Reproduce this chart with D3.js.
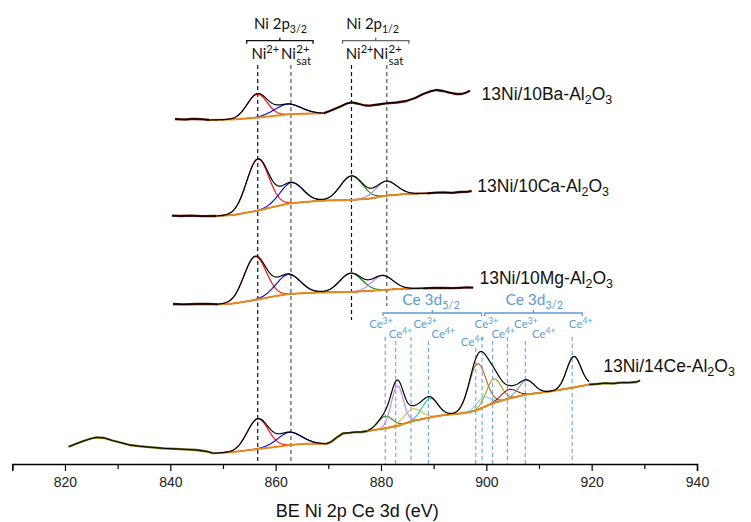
<!DOCTYPE html>
<html>
<head>
<meta charset="utf-8">
<script src="https://cdn.jsdelivr.net/npm/d3@7"></script>
<style>
  body { margin: 0; background: #fff; }
</style>
</head>
<body>
<div id="chart"></div>
<script>
// values: [binding energy eV, intensity (a.u., offset per sample)]
// peaks: [centre eV, height above background, sigma eV]

// 13Ni/10Ba-Al2O3
var baRawPre = [[840.9, 345], [842, 344.6], [843, 344.5], [844, 345.2], [845, 345], [846.3, 344.6], [847.5, 344]];
var baBg = [[847.5, 344], [852, 344.6], [856.5, 346.3], [859.5, 348], [862.5, 349.7], [866, 350.4], [869.1, 350.7]];
var baPeaks = [[856.5, 23.4, 1.9], [862.3, 10.3, 2.5]];
var baRawPost = [[869.1, 350.7], [870.5, 353.5], [872.2, 357.3], [873.5, 360.5], [874.4, 361.7], [875.5, 360.5],
  [877, 358.5], [877.9, 358.3], [879.5, 359.5], [881, 360.7], [883, 361.5], [884.8, 363], [886.5, 366], [888, 370],
  [889.5, 372.8], [890.5, 374], [891.8, 373], [893, 371.3], [894.3, 370], [895.3, 370], [896.2, 371.5], [896.9, 373.3]];

// 13Ni/10Ca-Al2O3
var caRawPre = [[840.3, 248.3], [842, 248], [844, 248.4], [846, 247.8], [848.8, 248]];
var caBg = [[848.8, 248], [852, 249], [856.6, 253.3], [859.5, 257], [862.7, 260.7], [868.5, 263.3], [874.4, 264],
  [878, 265.5], [881, 268.3], [884.5, 270], [888.7, 270.7]];
var caPeaks = [[856.6, 51.5, 2.1], [863, 20.5, 2.2], [874.4, 24, 2.1], [881, 14.5, 2.0]];
var caRawPost = [[888.7, 270.7], [890.5, 271.3], [892, 271.5], [893.5, 271.2], [895, 272], [896.3, 272.2], [897.2, 273]];

// 13Ni/10Mg-Al2O3
var mgRawPre = [[840.5, 160], [842.5, 159.6], [845, 160], [847, 160.2], [849.1, 159.7]];
var mgBg = [[849.1, 159.7], [852, 160.5], [856.1, 164], [859, 167], [862.4, 170], [868, 171.5], [874.3, 172],
  [877.5, 173], [880.3, 174], [884, 175.2], [888, 175.7]];
var mgPeaks = [[856.1, 43.3, 2.1], [862.4, 19.7, 2.3], [874.3, 18.7, 2.1], [880.3, 14.3, 2.0]];
var mgRawPost = [[888, 175.7], [890, 176.1], [892, 176], [893.5, 175.8], [895, 176.2], [896.3, 176.6], [897.5, 176.3]];

// 13Ni/14Ce-Al2O3
var ceRawPre = [[820.7, 17.3], [822, 20], [823.5, 23], [825, 25.5], [826, 26.7], [827.5, 26], [829, 23.5],
  [830.5, 21.5], [832.3, 19], [834, 17.8], [836, 16.8], [838.7, 15.7], [842, 14.8], [845, 14], [847, 12.5], [848.2, 10.7]];
var ceNiBg = [[848.2, 10.7], [852, 12], [856.6, 15], [860, 17], [862.6, 19], [866, 20.3], [869.6, 20.2]];
var ceNiPeaks = [[856.6, 30, 2.0], [862.6, 12.7, 2.3]];
var ceRawMid = [[869.6, 20.2], [870.5, 22], [871.6, 26.5], [872.8, 30.7], [874, 31.2], [875, 31.8], [876.3, 32], [877.5, 33]];
var ceBg = [[877.5, 33], [880.8, 35.7], [883.1, 38], [886, 43], [889.3, 46.5], [892, 49], [895, 50.5], [897, 52],
  [898.3, 54], [900, 58], [901.4, 61], [904.3, 65.5], [907.6, 69.5], [912, 72.5], [916.6, 76.5], [919.5, 79.5]];
var cePeaks = [[880.8, 12, 1.4], [883.1, 40, 1.15], [886, 12, 1.7], [889.3, 19, 1.5], [898.3, 46, 1.6],
  [899.4, 10, 1.3], [901.4, 24, 1.4], [904.3, 9, 1.5], [907.6, 14, 1.5], [916.6, 31, 1.35]];
var ceRawPost = [[919.5, 79.5], [921, 80], [922.5, 80.8], [924, 80.5], [925.5, 81.3], [927, 81.3], [928.5, 82], [929.2, 83.5]];

// reference lines and labels
var niLines = [856.6, 862.9, 874.4, 881.1];
var ceLines = [880.8, 882.8, 885.7, 889.0, 898.0, 899.2, 901.2, 904.0, 907.4, 916.3];
var ceLabels = ["3+", "4+", "3+", "4+", "4+", "3+", "4+", "3+", "4+", "4+"];
var ceLabelPos = [880.0, 883.7, 888.4, 891.8, 897.4, 900.0, 903.2, 907.5, 910.9, 917.9];
var sampleNames = ["13Ni/10Ba-Al", "13Ni/10Ca-Al", "13Ni/10Mg-Al", "13Ni/14Ce-Al"];
var tickLabels = [820, 840, 860, 880, 900, 920, 940];

// colours
var niColors = ["#ff0000", "#0000ff", "#008000", "#b77cff"];
var ceColors = ["#2e8b2e", "#b77cff", "#f2b544", "#1fc4c4", "#b0602a", "#6cc8f5", "#a5a021", "#a31515", "#6f9fd2", "#6b7a18"];
var bgColor = "#e8891c";
var ceBlue = "#5b9bd5";

var width = 751, height = 522;

var svg = d3.select("#chart")
  .append("svg")
  .attr("width", width)
  .attr("height", height)
  .style("font-family", "'Liberation Sans', Arial, sans-serif");

var x = d3.scaleLinear().domain([810, 940]).range([12.3, 697]);
var y = d3.scaleLinear().domain([0, 464]).range([464, 0]);

var line = d3.line()
  .x(function(d) { return x(d[0]) })
  .y(function(d) { return y(d[1]) });

function gauss(e, p) {
  return p[1] * Math.exp(-((e - p[0]) * (e - p[0])) / (2 * p[2] * p[2]));
}

// dashed reference lines (drawn under the spectra)
var niTop = 65;
var niBottom = [464, 464, 320, 306];
niLines.forEach(function(e, i) {
  svg.append("line")
    .attr("x1", x(e)).attr("x2", x(e))
    .attr("y1", niTop).attr("y2", niBottom[i])
    .attr("stroke", i % 2 == 0 ? "#111" : "#555")
    .attr("stroke-width", 1.2)
    .attr("stroke-dasharray", "4,3");
});

var ceTop = [337, 341, 337, 341, 348, 337, 341, 337, 341, 337];
ceLines.forEach(function(e, i) {
  svg.append("line")
    .attr("x1", x(e)).attr("x2", x(e))
    .attr("y1", ceTop[i]).attr("y2", 464)
    .attr("stroke", ceBlue)
    .attr("stroke-width", 1)
    .attr("stroke-dasharray", "4,3");
});

function drawRaw(data, under) {
  svg.append("path")
    .datum(data)
    .attr("fill", "none")
    .attr("stroke", under)
    .attr("stroke-width", 2.3)
    .attr("stroke-linejoin", "round")
    .attr("d", line);
  svg.append("path")
    .datum(data)
    .attr("fill", "none")
    .attr("stroke", "#000")
    .attr("stroke-width", 1)
    .attr("d", line);
}

function drawFit(bg, peaks, colors) {
  var bgAt = d3.scaleLinear().domain(bg.map(function(d) { return d[0] })).range(bg.map(function(d) { return d[1] }));
  var xs = d3.range(bg[0][0], bg[bg.length - 1][0] + 0.001, 0.1);

  peaks.forEach(function(p, i) {
    svg.append("path")
      .datum(xs.map(function(e) { return [e, bgAt(e) + gauss(e, p)] }))
      .attr("fill", "none")
      .attr("stroke", colors[i])
      .attr("stroke-width", 1.1)
      .attr("d", line);
  });

  svg.append("path")
    .datum(xs.map(function(e) { return [e, bgAt(e)] }))
    .attr("fill", "none")
    .attr("stroke", bgColor)
    .attr("stroke-width", 2)
    .attr("d", line);

  svg.append("path")
    .datum(xs.map(function(e) {
      return [e, bgAt(e) + d3.sum(peaks, function(p) { return gauss(e, p) })];
    }))
    .attr("fill", "none")
    .attr("stroke", "#000")
    .attr("stroke-width", 1.2)
    .attr("d", line);
}

var niRaw = "#5a140c", ceRaw = "#7a6c10";
drawRaw(baRawPre, niRaw); drawRaw(baRawPost, niRaw); drawFit(baBg, baPeaks, niColors);
drawRaw(caRawPre, niRaw); drawRaw(caRawPost, niRaw); drawFit(caBg, caPeaks, niColors);
drawRaw(mgRawPre, niRaw); drawRaw(mgRawPost, niRaw); drawFit(mgBg, mgPeaks, niColors);
drawRaw(ceRawPre, ceRaw); drawRaw(ceRawMid, ceRaw); drawRaw(ceRawPost, ceRaw);
drawFit(ceNiBg, ceNiPeaks, niColors);
drawFit(ceBg, cePeaks, ceColors);

// x axis
var axis = svg.append("g")
  .attr("transform", "translate(0,464)")
  .call(d3.axisBottom(x)
    .tickValues(d3.range(810, 941, 10))
    .tickFormat(function(d) { return tickLabels.indexOf(d) >= 0 ? d : "" })
    .tickSizeOuter(0)
    .tickSize(7)
    .tickPadding(6));
axis.select(".domain").attr("stroke-width", 1.5);
axis.selectAll(".tick line")
  .attr("stroke-width", 1.2)
  .attr("y2", function(d) { return d % 20 == 0 ? 7 : 5 });
axis.selectAll(".tick text")
  .style("font-size", "14px")
  .style("font-family", "'Liberation Sans', Arial, sans-serif")
  .attr("fill", "#222");

svg.append("text")
  .attr("x", x(875.5))
  .attr("y", 517)
  .attr("text-anchor", "middle")
  .style("font-size", "18px")
  .attr("fill", "#111")
  .text("BE Ni 2p Ce 3d (eV)");

// sample names
var nameX = [899.1, 898.3, 898.7, 922.2];
var nameY = [100, 191.7, 284.3, 371.7];
sampleNames.forEach(function(n, i) {
  var t = svg.append("text")
    .attr("x", x(nameX[i]))
    .attr("y", nameY[i])
    .style("font-size", "17.5px")
    .attr("fill", "#111");
  t.append("tspan").text(n);
  t.append("tspan").attr("dy", 4).style("font-size", "12.5px").text("2");
  t.append("tspan").attr("dy", -4).text("O");
  t.append("tspan").attr("dy", 4).style("font-size", "12.5px").text("3");
});

// brackets
function bracket(e0, e1, yb, color) {
  var p = d3.path();
  p.moveTo(x(e0), yb + 3); p.lineTo(x(e0), yb); p.lineTo(x(e1), yb); p.lineTo(x(e1), yb + 3);
  p.moveTo(x((e0 + e1) / 2), yb); p.lineTo(x((e0 + e1) / 2), yb - 3);
  svg.append("path").attr("d", p.toString()).attr("fill", "none").attr("stroke", color).attr("stroke-width", 1.3);
}
var labelFont = "Lato, 'Open Sans', sans-serif";

function groupLabel(cx, yb, main, sub, color, size) {
  var t = svg.append("text")
    .attr("x", x(cx)).attr("y", yb)
    .attr("text-anchor", "middle")
    .style("font-family", labelFont)
    .style("font-size", size + "px")
    .attr("fill", color);
  t.append("tspan").text(main);
  t.append("tspan").attr("dy", 4).style("font-size", (size * 0.7) + "px").text(sub);
}

bracket(854.5, 867.1, 40.7, "#111");
bracket(872.7, 885.3, 40.7, "#666");
groupLabel(860.9, 29, "Ni 2p", "3/2", "#111", 15);
groupLabel(878.4, 29, "Ni 2p", "1/2", "#111", 15);

bracket(880.4, 899.1, 313, ceBlue);
bracket(899.7, 918.2, 313, ceBlue);
groupLabel(889.5, 305, "Ce 3d", "5/2", ceBlue, 15.5);
groupLabel(909.1, 305, "Ce 3d", "3/2", ceBlue, 15.5);

// Ni2+ / Ni sat labels
var niLabelX = [855.4, 861.0, 873.3, 878.5];
niLabelX.forEach(function(e, i) {
  var t = svg.append("text")
    .attr("x", x(e)).attr("y", 59)
    .style("font-family", labelFont)
    .style("font-size", "15px")
    .attr("fill", "#111");
  t.append("tspan").text("Ni");
  var w = t.node().getComputedTextLength();
  if (i % 2 == 0) {
    t.append("tspan").attr("dy", -6).style("font-size", "11px").text("2+");
  } else {
    svg.append("text")
      .attr("x", x(e) + w + 0.5).attr("y", 53)
      .style("font-family", labelFont).style("font-size", "11.5px").attr("fill", "#111")
      .text("2+");
    svg.append("text")
      .attr("x", x(e) + w + 0.5).attr("y", 65)
      .style("font-family", labelFont).style("font-size", "11.5px").attr("fill", "#111")
      .text("sat");
  }
});

// Ce3+ / Ce4+ labels
var ceLabelY = [328, 338, 328, 338, 346, 328, 338, 328, 338, 328];
ceLabelPos.forEach(function(e, i) {
  var t = svg.append("text")
    .attr("x", x(e)).attr("y", ceLabelY[i])
    .attr("text-anchor", "middle")
    .style("font-family", labelFont)
    .style("font-size", "11.5px")
    .attr("fill", ceBlue);
  t.append("tspan").text("Ce");
  t.append("tspan").attr("dy", -4).style("font-size", "8.5px").text(ceLabels[i]);
});
</script>
</body>
</html>
